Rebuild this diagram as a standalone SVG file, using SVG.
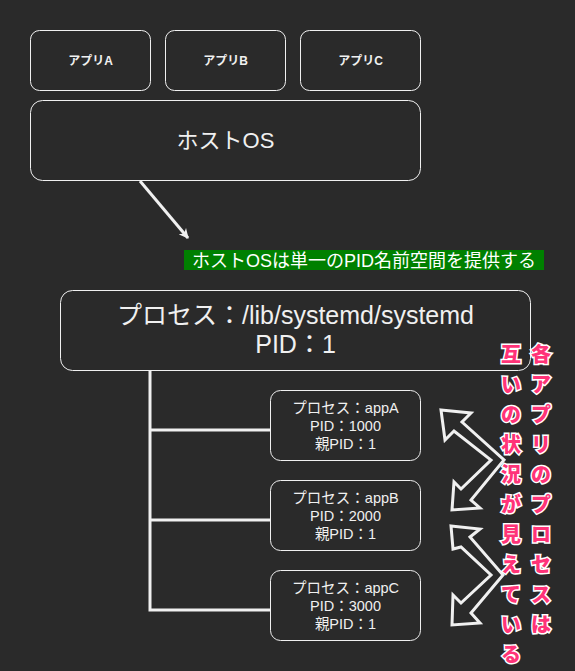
<svg xmlns="http://www.w3.org/2000/svg" width="575" height="671" viewBox="0 0 575 671">
<defs>
<style>
.box{fill:#2a2a2a;stroke:#f0f0f0;stroke-width:1}
.t{fill:#f0f0f0;font-family:"Liberation Sans","Noto Sans CJK JP",sans-serif;text-anchor:middle}
.line{stroke:#f0f0f0;stroke-width:3;fill:none}
.barrow{fill:#2a2a2a;stroke:#f0f0f0;stroke-width:3;stroke-linejoin:miter}
.pink{fill:#ff3378;stroke:#ffffff;stroke-width:3;paint-order:stroke;font-family:"Noto Sans CJK JP",sans-serif;font-weight:900;font-size:20px;text-anchor:middle}
</style>
<marker id="ah" viewBox="0 0 10 10" refX="9" refY="5" markerWidth="10" markerHeight="10" markerUnits="userSpaceOnUse" orient="auto">
<path d="M0,0 L10,5 L0,10 L3,5 Z" fill="#f0f0f0"/>
</marker>
</defs>
<rect x="0" y="0" width="575" height="671" fill="#2a2a2a"/>

<g id="connectors">
<line class="line" x1="140" y1="181" x2="188" y2="238" stroke-width="2" marker-end="url(#ah)"/>
<path class="line" d="M150,370 V610 H270 M150,430 H270 M150,520 H270"/>
<path class="barrow" d="M441,410 L471,413 L462,422 L504,460 L471,500 L480,508 L452,510 L454,482 L461,489 L491,460 L454,431 L445,440 Z"/>
<path class="barrow" d="M451,526 L480,529 L470,537 L503,575 L471,613 L480,623 L452,625 L453,595 L461,603 L491,575 L461,547 L453,549 Z"/>
</g>

<g id="appA">
<rect class="box" x="30.5" y="30.5" width="120" height="60" rx="9"/>
<text class="t" x="90.5" y="64.5" font-size="12" font-weight="bold">アプリA</text>
</g>
<g id="appB">
<rect class="box" x="165.5" y="30.5" width="120" height="60" rx="9"/>
<text class="t" x="225.5" y="64.5" font-size="12" font-weight="bold">アプリB</text>
</g>
<g id="appC">
<rect class="box" x="300.5" y="30.5" width="120" height="60" rx="9"/>
<text class="t" x="360.5" y="64.5" font-size="12" font-weight="bold">アプリC</text>
</g>
<g id="hostos">
<rect class="box" x="30.5" y="100.5" width="390" height="80" rx="12"/>
<text class="t" x="225.5" y="148" font-size="22">ホストOS</text>
</g>
<g id="label">
<rect x="184" y="250" width="360" height="20" fill="#008000"/>
<text class="t" x="364" y="266.5" font-size="18" style="fill:#ffffff">ホストOSは単一のPID名前空間を提供する</text>
</g>
<g id="systemd">
<rect class="box" x="60.5" y="290.5" width="470" height="80" rx="12"/>
<text class="t" x="295.5" y="324" font-size="25">プロセス：/lib/systemd/systemd</text>
<text class="t" x="295.5" y="353" font-size="25">PID：1</text>
</g>
<g id="procA">
<rect class="box" x="270.5" y="390.5" width="150" height="70" rx="10"/>
<text class="t" x="345.5" y="413" font-size="14.5">プロセス：appA</text>
<text class="t" x="345.5" y="431" font-size="14.5">PID：1000</text>
<text class="t" x="345.5" y="449" font-size="14.5">親PID：1</text>
</g>
<g id="procB">
<rect class="box" x="270.5" y="480.5" width="150" height="70" rx="10"/>
<text class="t" x="345.5" y="503" font-size="14.5">プロセス：appB</text>
<text class="t" x="345.5" y="521" font-size="14.5">PID：2000</text>
<text class="t" x="345.5" y="539" font-size="14.5">親PID：1</text>
</g>
<g id="procC">
<rect class="box" x="270.5" y="570.5" width="150" height="70" rx="10"/>
<text class="t" x="345.5" y="593" font-size="14.5">プロセス：appC</text>
<text class="t" x="345.5" y="611" font-size="14.5">PID：3000</text>
<text class="t" x="345.5" y="629" font-size="14.5">親PID：1</text>
</g>

<g id="note">
<text class="pink" x="541" y="362"><tspan x="541">各</tspan><tspan x="541" dy="30">ア</tspan><tspan x="541" dy="30">プ</tspan><tspan x="541" dy="30">リ</tspan><tspan x="541" dy="30">の</tspan><tspan x="541" dy="30">プ</tspan><tspan x="541" dy="30">ロ</tspan><tspan x="541" dy="30">セ</tspan><tspan x="541" dy="30">ス</tspan><tspan x="541" dy="30">は</tspan></text>
<text class="pink" x="511" y="362"><tspan x="511">互</tspan><tspan x="511" dy="30">い</tspan><tspan x="511" dy="30">の</tspan><tspan x="511" dy="30">状</tspan><tspan x="511" dy="30">況</tspan><tspan x="511" dy="30">が</tspan><tspan x="511" dy="30">見</tspan><tspan x="511" dy="30">え</tspan><tspan x="511" dy="30">て</tspan><tspan x="511" dy="30">い</tspan><tspan x="511" dy="30">る</tspan></text>
</g>
</svg>
